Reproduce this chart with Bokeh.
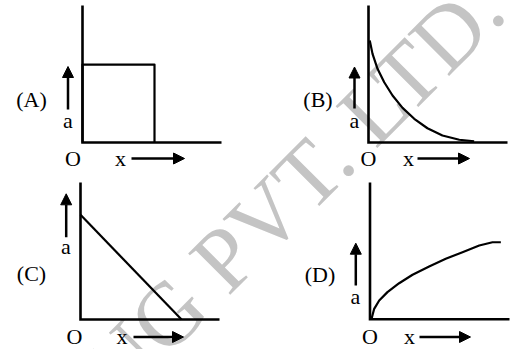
import math
from bokeh.plotting import figure
from bokeh.models import Range1d, Arrow, NormalHead
from bokeh.core.properties import value
from bokeh.embed import file_html
from bokeh.resources import INLINE

# ---------------- data (axis length = 10 units) -------------
# (A) constant acceleration up to a certain x, then zero
a_x = [0.0, 0.0, 5.18, 5.18]
a_a = [0.0, 5.69, 5.69, 0.0]
# (B) decreasing, concave up
b_x = [0.09, 0.29, 0.65, 1.13, 1.73, 2.45, 3.29, 4.24, 5.32, 6.53, 7.60]
b_a = [7.45, 6.47, 5.38, 4.40, 3.43, 2.53, 1.73, 1.04, 0.51, 0.20, 0.09]
# (C) straight line decreasing
c_x = [0.0, 7.27]
c_a = [7.64, 0.0]
# (D) increasing, concave down
d_x = [0.0, 0.13, 0.30, 0.66, 1.25, 2.09, 3.05, 4.24, 5.43, 6.63, 7.83, 8.78, 9.38]
d_a = [0.0, 0.10, 0.76, 1.37, 1.98, 2.63, 3.25, 3.86, 4.42, 4.90, 5.39, 5.63, 5.63]

panel_names = ["A", "B", "C", "D"]
panel_labels = ["(A)", "(B)", "(C)", "(D)"]
y_label = "a"
x_label = "x"
origin_label = "O"
watermark = "NG PVT. LTD."
AX = 10.0  # axis length in data units

# ---------------- layout (page pixels, from top-left) ----------------
W, H = 514, 349
FS = 22          # label font size (px)
WM_FS = 90       # watermark font size (px)
BASE_FIX = 0.34  # renderer draws "alphabetic" text this many em lower
layout = {
    "A": dict(origin=(82, 142), x_end=221, y_top=5,
              tag=(31, 106.3), arr_x=67.5, arr=(109, 66), a=(67.5, 127),
              O=(72.5, 165), x=(120, 165), xarr=(131, 184, 158)),
    "B": dict(origin=(368, 142), x_end=507, y_top=5,
              tag=(317.5, 106), arr_x=354, arr=(108, 66.5), a=(354, 127),
              O=(368, 165), x=(408, 165), xarr=(417, 469, 158)),
    "C": dict(origin=(80, 319), x_end=219, y_top=182,
              tag=(31, 280), arr_x=65.7, arr=(236.7, 193.3), a=(65.5, 253),
              O=(74, 343.5), x=(121.5, 343.5), xarr=(133, 183, 336.5)),
    "D": dict(origin=(369.5, 318.7), x_end=509, y_top=182,
              tag=(319.5, 281), arr_x=355.3, arr=(285, 242.7), a=(355, 303),
              O=(369.5, 343.5), x=(409, 343.5), xarr=(419, 470, 336.5)),
}

p = figure(width=W, height=H, output_backend="svg", toolbar_location=None,
           x_range=Range1d(0, W), y_range=Range1d(0, H),
           x_axis_location=None, y_axis_location=None, min_border=0)
p.grid.visible = False
p.outline_line_color = None
p.background_fill_color = "white"
p.border_fill_color = "white"

FONT = value("Liberation Serif")

# watermark: centre of its baseline (page px), rotated 45 degrees
ang = math.radians(45)
wm_len = 6.277 * WM_FS
end_x, end_y = 514.0, 10.2
cx = end_x - wm_len / 2 * math.cos(ang)
cy = end_y + wm_len / 2 * math.sin(ang)
fix = BASE_FIX * WM_FS
cx -= fix * math.sin(ang)
cy -= fix * math.cos(ang)
p.text(x=[cx], y=[H - cy], text=[watermark], angle=ang,
       text_font=FONT, text_font_size=f"{WM_FS}px", text_color="#c4c4c4",
       text_align="center", text_baseline="alphabetic")

series = {"A": (a_x, a_a), "B": (b_x, b_a), "C": (c_x, c_a), "D": (d_x, d_a)}

for name, lab in zip(panel_names, panel_labels):
    L = layout[name]
    ox, oy = L["origin"]
    sx = (L["x_end"] - ox) / AX
    sy = (oy - L["y_top"]) / AX
    p.extra_x_ranges[name] = Range1d((0 - ox) / sx, (W - ox) / sx)
    p.extra_y_ranges[name] = Range1d((oy - H) / sy, (oy - 0) / sy)

    def dx(px):
        return (px - ox) / sx

    def dy(py):
        return (oy - py) / sy

    def ty(py):
        return dy(py - BASE_FIX * FS)

    kw = dict(x_range_name=name, y_range_name=name)
    # axes
    p.line([0, 0, AX], [AX, 0, 0], line_width=2.6, line_color="black",
           line_join="miter", **kw)
    # curve
    xs, ys = series[name]
    p.line(xs, ys, line_width=2.2, line_color="black", line_join="round", **kw)

    # texts
    txt = dict(text_font=FONT, text_font_size=f"{FS}px", text_color="black",
               text_align="center", text_baseline="alphabetic", **kw)
    p.text(x=[dx(L["tag"][0])], y=[ty(L["tag"][1])], text=[lab], **txt)
    p.text(x=[dx(L["a"][0])], y=[ty(L["a"][1])], text=[y_label], **txt)
    p.text(x=[dx(L["O"][0])], y=[ty(L["O"][1])], text=[origin_label], **txt)
    p.text(x=[dx(L["x"][0])], y=[ty(L["x"][1])], text=[x_label], **txt)

    # arrows
    t0, t1 = L["arr"]
    p.add_layout(Arrow(x_start=dx(L["arr_x"]), y_start=dy(t0),
                       x_end=dx(L["arr_x"]), y_end=dy(t1),
                       line_width=2.5, line_color="black",
                       end=NormalHead(size=11, fill_color="black", line_color="black", line_width=1),
                       **kw))
    x0, x1, yy = L["xarr"]
    p.add_layout(Arrow(x_start=dx(x0), y_start=dy(yy), x_end=dx(x1), y_end=dy(yy),
                       line_width=2.5, line_color="black",
                       end=NormalHead(size=11, fill_color="black", line_color="black", line_width=1),
                       **kw))

open("out.html", "w").write(file_html(p, INLINE))
